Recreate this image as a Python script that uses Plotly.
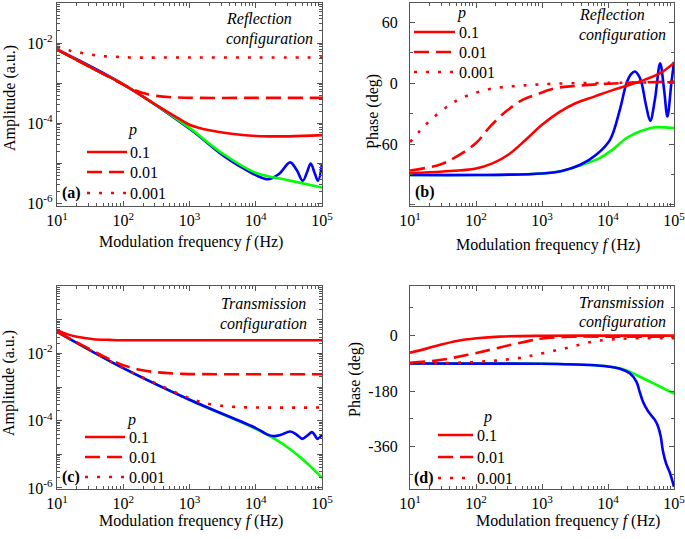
import plotly.graph_objects as go

# ---------------- data (log10 of frequency in Hz) ----------------
# Panel (a): amplitude, reflection (values are log10 of amplitude)
a_p01_lf = [1.0, 1.5, 2.0, 2.5, 2.8, 3.0, 3.3, 3.66, 4.0, 4.5, 5.0]
a_p01_la = [-2.16, -2.60, -3.03, -3.55, -3.85, -4.04, -4.18, -4.27, -4.32, -4.33, -4.30]
a_p001_lf = [1.0, 1.5, 1.8, 2.0, 2.15, 2.3, 2.5, 2.8, 3.2, 4.0, 5.0]
a_p001_la = [-2.16, -2.60, -2.86, -3.04, -3.16, -3.25, -3.32, -3.36, -3.37, -3.37, -3.37]
a_p0001_lf = [1.0, 1.2, 1.42, 1.64, 1.85, 2.1, 3.0, 4.0, 5.0]
a_p0001_la = [-2.09, -2.19, -2.26, -2.32, -2.34, -2.36, -2.36, -2.36, -2.36]
a_green_lf = [1.0, 1.5, 2.0, 2.5, 3.0, 3.5, 4.0, 4.5, 5.0]
a_green_la = [-2.16, -2.60, -3.03, -3.55, -4.12, -4.76, -5.24, -5.43, -5.61]
a_blue_lf = [1.0, 2.0, 3.0, 3.5, 3.8, 4.0, 4.19, 4.35, 4.52, 4.62, 4.71, 4.78, 4.83, 4.89, 4.94, 5.0]
a_blue_la = [-2.16, -3.03, -4.14, -4.80, -5.12, -5.30, -5.40, -5.27, -4.98, -5.18, -5.44, -5.20, -5.01, -5.25, -5.44, -5.02]

# Panel (b): phase (deg), reflection
b_p01_lf = [1.0, 1.5, 2.0, 2.25, 2.5, 2.75, 3.0, 3.25, 3.5, 3.8, 4.08, 4.48, 4.79, 5.0]
b_p01_ph = [-88.5, -87, -84, -79, -70, -56, -41, -29, -20, -13, -6.6, 1.6, 9.8, 20]
b_p001_lf = [1.0, 1.45, 1.71, 2.0, 2.21, 2.47, 2.72, 2.92, 3.2, 3.5, 4.0, 4.5, 5.0]
b_p001_ph = [-86, -80.3, -72.2, -59, -43, -27, -16, -11, -5, -2.7, -0.5, 0.8, 1.5]
b_p0001_lf = [1.0, 1.15, 1.35, 1.61, 1.78, 1.98, 2.19, 2.4, 2.62, 2.83, 3.2, 4.0, 5.0]
b_p0001_ph = [-58, -47, -34, -21, -14.8, -9.8, -5.9, -3.9, -2.7, -1.7, -0.5, 0.3, 1.0]
b_green_lf = [1.0, 2.0, 2.5, 3.0, 3.3, 3.58, 3.88, 4.08, 4.28, 4.48, 4.69, 4.85, 5.0]
b_green_ph = [-90.5, -90.5, -90.2, -89, -86.5, -81, -73.5, -65, -54, -47.6, -43.6, -43.5, -44.3]
b_blue_lf = [1.0, 2.0, 3.0, 3.3, 3.58, 3.83, 4.03, 4.18, 4.28, 4.35, 4.41, 4.47, 4.51,
             4.58, 4.64, 4.71, 4.79, 4.85, 4.9, 4.96, 5.0]
b_blue_ph = [-90.5, -90.5, -89, -86.5, -80.4, -70, -55.8, -26, 0, 9, 11.5, 7, 0,
             -23, -37, -16.4, 19.7, -6.6, -32.8, 0, 21]

# Panel (c): amplitude, transmission (log10 of amplitude)
c_p01_lf = [1.0, 1.15, 1.3, 1.55, 1.8, 2.0, 3.0, 4.0, 5.0]
c_p01_la = [-1.31, -1.43, -1.51, -1.58, -1.60, -1.61, -1.61, -1.61, -1.61]
c_p001_lf = [1.0, 1.5, 1.8, 2.0, 2.25, 2.5, 2.9, 3.5, 5.0]
c_p001_la = [-1.36, -1.88, -2.18, -2.35, -2.49, -2.56, -2.61, -2.62, -2.62]
c_p0001_lf = [1.0, 2.0, 2.5, 2.8, 3.0, 3.2, 3.45, 3.8, 5.0]
c_p0001_la = [-1.36, -2.44, -2.90, -3.17, -3.33, -3.46, -3.55, -3.60, -3.61]
c_green_lf = [1.0, 2.0, 3.0, 4.0, 4.25, 4.5, 4.75, 5.0]
c_green_la = [-1.36, -2.44, -3.38, -4.24, -4.50, -4.82, -5.22, -5.70]
c_blue_lf = [1.0, 2.0, 3.0, 4.0, 4.1, 4.2, 4.28, 4.38, 4.52, 4.62, 4.70, 4.78, 4.85, 4.90, 4.93, 5.0]
c_blue_la = [-1.36, -2.44, -3.38, -4.22, -4.33, -4.43, -4.46, -4.42, -4.32, -4.42, -4.54, -4.44, -4.34, -4.46, -4.54, -4.42]

# Panel (d): phase (deg), transmission
d_p01_lf = [1.0, 1.25, 1.45, 1.71, 2.01, 2.36, 3.0, 4.0, 5.0]
d_p01_ph = [-55, -42, -30, -17, -8.6, -3, -0.5, 0, 0]
d_p001_lf = [1.0, 1.45, 1.86, 2.21, 2.52, 2.82, 3.0, 3.47, 4.0, 5.0]
d_p001_ph = [-87.6, -79, -62.6, -46, -30, -16, -9, -3.5, -3, -3]
d_p0001_lf = [1.0, 1.5, 2.0, 2.29, 2.49, 2.72, 2.89, 3.2, 3.47, 3.75, 4.0, 4.33, 5.0]
d_p0001_ph = [-89.6, -89, -85, -81, -76.6, -70, -62.6, -48, -35, -20, -13, -9, -8]
d_green_lf = [1.0, 2.0, 3.0, 3.73, 4.0, 4.23, 4.53, 4.74, 5.0]
d_green_ph = [-90, -90.5, -91, -95, -100, -109, -138, -160, -188]
d_blue_lf = [1.0, 2.0, 3.0, 3.73, 4.0, 4.18, 4.33, 4.43, 4.48, 4.53, 4.61, 4.71, 4.76,
             4.80, 4.83, 4.88, 4.94, 5.0]
d_blue_ph = [-90, -90.5, -91, -95, -100, -107, -122, -149, -182, -214, -246, -273, -295,
             -328, -371, -414, -446, -490]

p_labels = ["0.1", "0.01", "0.001"]
x_ticks_exp = [1, 2, 3, 4, 5]
amp_label_exp = [-6, -4, -2]

# ---------------- styling ----------------
FONT = "Liberation Serif"
RED, BLUE, GREEN = "#ff0000", "#0000ff", "#00ff00"
AXC = "#555555"
LW = 2.6
DASHES = ["solid", "15px,7px", "3px,9px"]
W, H = 685, 539

def pw(v):
    return [10 ** t for t in v]

fig = go.Figure()

def add(lf, y, color, xa, ya, dash="solid"):
    fig.add_trace(go.Scatter(
        x=pw(lf), y=y, mode="lines", xaxis=xa, yaxis=ya,
        line=dict(color=color, width=LW, dash=dash, shape="spline", smoothing=1.0),
        showlegend=False, hoverinfo="skip"))

# (a)
add(a_blue_lf, pw(a_blue_la), BLUE, "x", "y")
add(a_green_lf, pw(a_green_la), GREEN, "x", "y")
for lf, la, d in [(a_p01_lf, a_p01_la, DASHES[0]), (a_p001_lf, a_p001_la, DASHES[1]),
                  (a_p0001_lf, a_p0001_la, DASHES[2])]:
    add(lf, pw(la), RED, "x", "y", d)
# (b)
add(b_green_lf, b_green_ph, GREEN, "x2", "y2")
add(b_blue_lf, b_blue_ph, BLUE, "x2", "y2")
for lf, ph, d in [(b_p01_lf, b_p01_ph, DASHES[0]), (b_p001_lf, b_p001_ph, DASHES[1]),
                  (b_p0001_lf, b_p0001_ph, DASHES[2])]:
    add(lf, ph, RED, "x2", "y2", d)
# (c)
add(c_green_lf, pw(c_green_la), GREEN, "x3", "y3")
add(c_blue_lf, pw(c_blue_la), BLUE, "x3", "y3")
for lf, la, d in [(c_p01_lf, c_p01_la, DASHES[0]), (c_p001_lf, c_p001_la, DASHES[1]),
                  (c_p0001_lf, c_p0001_la, DASHES[2])]:
    add(lf, pw(la), RED, "x3", "y3", d)
# (d)
add(d_green_lf, d_green_ph, GREEN, "x4", "y4")
add(d_blue_lf, d_blue_ph, BLUE, "x4", "y4")
for lf, ph, d in [(d_p01_lf, d_p01_ph, DASHES[0]), (d_p001_lf, d_p001_ph, DASHES[1]),
                  (d_p0001_lf, d_p0001_ph, DASHES[2])]:
    add(lf, ph, RED, "x4", "y4", d)

def dx(a, b):
    return [a / W, b / W]
def dy(top, bot):
    return [1 - bot / H, 1 - top / H]

base = dict(showline=True, linecolor=AXC, linewidth=1.3, mirror="allticks",
            ticks="inside", ticklen=5, tickwidth=1.2, tickcolor=AXC,
            showgrid=False, zeroline=False, automargin=False, ticklabeloverflow="allow",
            tickfont=dict(family=FONT, size=16, color="black"))
minor_log_x = [m * 10 ** e for e in range(1, 5) for m in range(2, 10)]

def xax(dom, anchor):
    return dict(base, type="log", domain=dom, anchor=anchor, range=[1, 5],
                tickmode="array", tickvals=[10 ** e for e in x_ticks_exp],
                ticktext=["10<sup>%d</sup>" % e for e in x_ticks_exp],
                minor=dict(tickmode="array", tickvals=minor_log_x, ticks="inside",
                           ticklen=3, tickcolor=AXC, showgrid=False))

def ylog(dom, anchor, rng, emin, emax):
    exps = list(range(emin, emax + 1))
    return dict(base, type="log", domain=dom, anchor=anchor, range=rng,
                tickmode="array", tickvals=[10 ** e for e in exps],
                ticktext=["10<sup>%d</sup>" % e if e in amp_label_exp else "" for e in exps],
                minor=dict(tickmode="array",
                           tickvals=[m * 10 ** e for e in range(emin - 1, emax + 1) for m in range(2, 10)],
                           ticks="inside", ticklen=3, tickcolor=AXC, showgrid=False),
                ticklabelstandoff=0)

def ylin(dom, anchor, rng, major, labels, minor, standoff):
    return dict(base, domain=dom, anchor=anchor, range=rng,
                tickmode="array", tickvals=major, ticktext=labels,
                minor=dict(tickmode="array", tickvals=minor, ticks="inside",
                           ticklen=3, tickcolor=AXC, showgrid=False),
                ticklabelstandoff=standoff)

# plot boxes in pixels (left, top, right, bottom)
PA, PB, PC, PD = (57, 3, 322, 206), (410, 3, 674, 206), (57, 286, 322, 489), (410, 286, 674, 489)

fig.update_layout(
    width=W, height=H, margin=dict(l=0, r=0, t=0, b=0),
    paper_bgcolor="white", plot_bgcolor="white", showlegend=False,
    font=dict(family=FONT, size=16, color="black"),
    xaxis=xax(dx(PA[0], PA[2]), "y"), yaxis=ylog(dy(PA[1], PA[3]), "x", [-6.07, -1.0], -6, -1),
    xaxis2=xax(dx(PB[0], PB[2]), "y2"),
    yaxis2=ylin(dy(PB[1], PB[3]), "x2", [-121, 79], [-120, -60, 0, 60], ["", "-60", "0", "60"], [-90, -30, 30], 8),
    xaxis3=xax(dx(PC[0], PC[2]), "y3"), yaxis3=ylog(dy(PC[1], PC[3]), "x3", [-6.03, 0.0], -6, 0),
    xaxis4=xax(dx(PD[0], PD[2]), "y4"),
    yaxis4=ylin(dy(PD[1], PD[3]), "x4", [-497, 161], [-360, -180, 0], ["-360", "-180", "0"], [-450, -270, -90, 90], 8),
)

def txt(text, xpx, ypx, xanchor="center", yanchor="middle", angle=0, size=16, align="left"):
    fig.add_annotation(text=text, xref="paper", yref="paper", x=xpx / W, y=1 - ypx / H,
                       xanchor=xanchor, yanchor=yanchor, textangle=angle, showarrow=False,
                       align=align, font=dict(family=FONT, size=size, color="black"))

def seg(x0, x1, ypx, dash):
    fig.add_shape(type="line", xref="paper", yref="paper", x0=x0 / W, x1=x1 / W,
                  y0=1 - ypx / H, y1=1 - ypx / H, line=dict(color=RED, width=LW, dash=dash))

# axis titles
XT = "Modulation frequency <i>f</i> (Hz)"
txt(XT, 191, 242); txt(XT, 548, 245); txt(XT, 191, 521); txt(XT, 568, 521)
txt("Amplitude (a.u.)", 10, 98, angle=-90); txt("Amplitude (a.u.)", 9, 383, angle=-90)
txt("Phase (deg)", 373, 112, angle=-90); txt("Phase (deg)", 355, 380, angle=-90)

# in-plot notes
txt("<i>Reflection</i>", 224, 19, xanchor="left"); txt("<i>configuration</i>", 224, 39, xanchor="left")
txt("<i>Reflection</i>", 577, 15, xanchor="left"); txt("<i>configuration</i>", 577, 35, xanchor="left")
txt("<i>Transmission</i>", 219, 303, xanchor="left"); txt("<i>configuration</i>", 218, 324, xanchor="left")
txt("<i>Transmission</i>", 577, 302, xanchor="left"); txt("<i>configuration</i>", 577, 322, xanchor="left")
txt("<b>(a)</b>", 60, 193, xanchor="left"); txt("<b>(b)</b>", 413, 192, xanchor="left")
txt("<b>(c)</b>", 60, 477, xanchor="left"); txt("<b>(d)</b>", 412, 478, xanchor="left")

# legends (p title, sample lines, labels)
legends = [  # line_x0, line_x1, text_x, p_x, p_y, item ys
    (87, 127, 128, 132, 130, [152, 172, 193]),
    (414, 455, 457, 461, 13, [32, 52, 72]),
    (85, 125, 127, 131, 420, [437, 457, 477]),
    (438, 473, 475, 487, 417, [435, 457, 478]),
]
for lx0, lx1, tx, px, py, ys in legends:
    txt("<i>p</i>", px, py)
    for yy, d, lab in zip(ys, DASHES, p_labels):
        seg(lx0, lx1, yy, d)
        txt(lab, tx, yy, xanchor="left")

fig.write_html("out.html", config={"displayModeBar": False},
               post_script="document.body.style.margin='0px';document.body.style.overflow='hidden';")
